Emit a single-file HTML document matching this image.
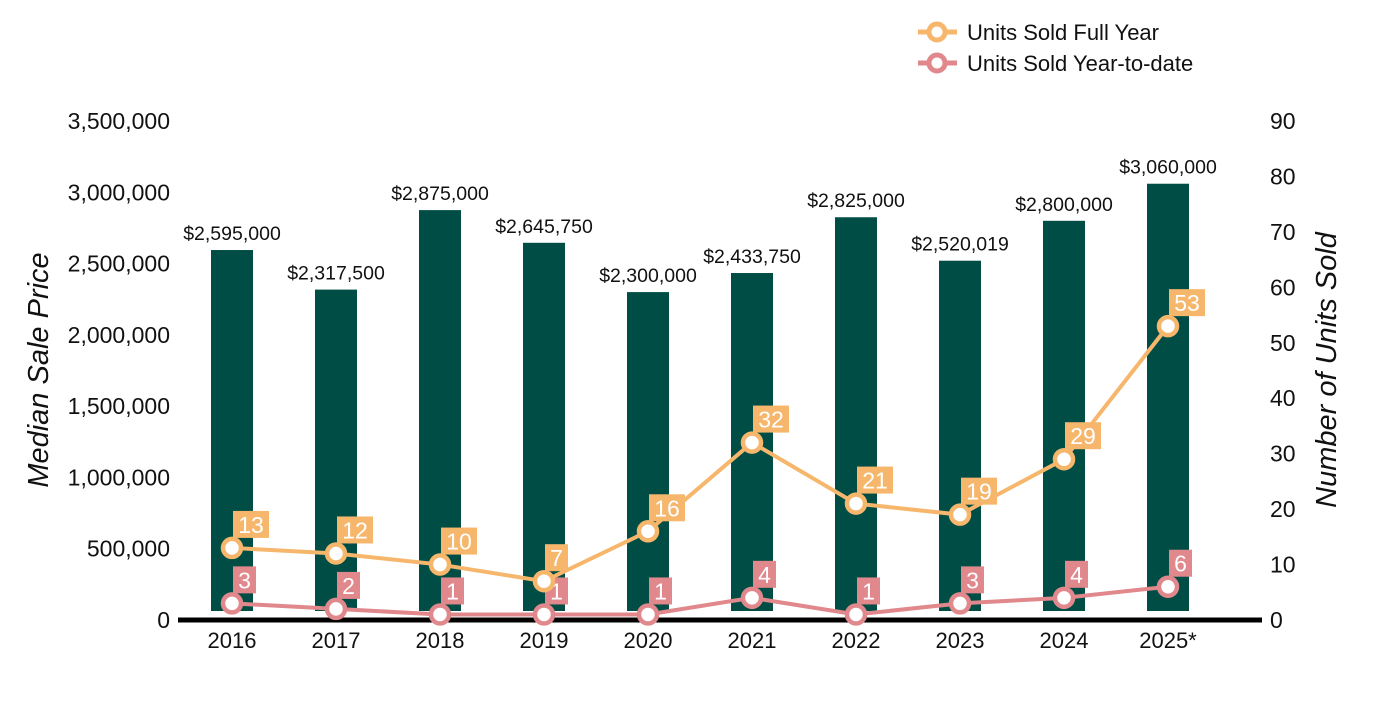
<!DOCTYPE html>
<html><head><meta charset="utf-8"><style>
body{margin:0;background:#fff}
svg text{font-family:"Liberation Sans",Arial,sans-serif}
</style></head><body>
<svg id="chart" width="1400" height="700" xmlns="http://www.w3.org/2000/svg">
<g id="axes"></g><g id="bars"></g><g id="lines"></g>
<g>
<g>
<line x1="918" y1="32" x2="957" y2="32" stroke="#F6B76D" stroke-width="5"/>
<circle cx="937" cy="32" r="8" fill="#fff" stroke="#F6B76D" stroke-width="5"/>
<text x="967" y="40" font-size="22" fill="#111">Units Sold Full Year</text></g>
<g>
<line x1="918" y1="63" x2="957" y2="63" stroke="#E0888C" stroke-width="5"/>
<circle cx="937" cy="63" r="8" fill="#fff" stroke="#E0888C" stroke-width="5"/>
<text x="967" y="71" font-size="22" fill="#111">Units Sold Year-to-date</text></g>
</g>
<text transform="translate(48,370) rotate(-90)" text-anchor="middle" font-size="29" font-style="italic" fill="#111">Median Sale Price</text>
<text transform="translate(1336,370) rotate(-90)" text-anchor="middle" font-size="29" font-style="italic" fill="#111">Number of Units Sold</text>
</svg>
<script>
const years=["2016","2017","2018","2019","2020","2021","2022","2023","2024","2025*"];
const prices=[2595000,2317500,2875000,2645750,2300000,2433750,2825000,2520019,2800000,3060000];
const priceLabels=["$2,595,000","$2,317,500","$2,875,000","$2,645,750","$2,300,000","$2,433,750","$2,825,000","$2,520,019","$2,800,000","$3,060,000"];
const fullYear=[13,12,10,7,16,32,21,19,29,53];
const ytd=[3,2,1,1,1,4,1,3,4,6];
const leftTicks=[0,500000,1000000,1500000,2000000,2500000,3000000,3500000];
const rightTicks=[0,10,20,30,40,50,60,70,80,90];
const NS="http://www.w3.org/2000/svg";
const y0=620,yTop=121;
const yL=v=>y0-(v/3500000)*(y0-yTop);
const yR=v=>y0-(v/90)*(y0-yTop);
const xC=i=>232+i*104;
function mk(tag,attrs,parent,txt){const e=document.createElementNS(NS,tag);for(const k in attrs)e.setAttribute(k,attrs[k]);if(txt!==undefined)e.textContent=txt;parent.appendChild(e);return e;}
const axes=document.getElementById('axes'),bars=document.getElementById('bars'),lines=document.getElementById('lines');
leftTicks.forEach(t=>{const e=mk('text',{x:170,y:yL(t)+8,'text-anchor':'end','font-size':23,fill:'#111'},axes,t.toLocaleString('en-US'));

});
rightTicks.forEach(t=>{const e=mk('text',{x:1270,y:yR(t)+8,'font-size':23,fill:'#111'},axes,String(t));

});
years.forEach((y,i)=>{const e=mk('text',{x:xC(i),y:648,'text-anchor':'middle','font-size':22,fill:'#111'},axes,y);

});
prices.forEach((p,i)=>{const top=yL(p);
const r=mk('rect',{x:xC(i)-21,y:top,width:42,height:Math.max(0,611-top),fill:'#004D45'},bars);


const t=mk('text',{x:xC(i),y:top-10,'text-anchor':'middle','font-size':19.5,fill:'#111'},bars,priceLabels[i]);

});
const ax=mk('line',{x1:178,y1:620,x2:1262,y2:620,stroke:'#000','stroke-width':5},axes);


function series(vals,color,name){
const pts=vals.map((v,i)=>xC(i)+','+yR(v)).join(' ');
const pl=mk('polyline',{points:pts,fill:'none',stroke:color,'stroke-width':4},lines);


vals.forEach((v,i)=>{const cx=xC(i),cy=yR(v);
const c=mk('circle',{cx:cx,cy:cy,r:9,fill:'#fff',stroke:color,'stroke-width':4.5},lines);


const s=String(v),w=s.length>1?36:23;
const b=mk('rect',{x:cx+1,y:cy-37,width:w,height:27,fill:color},lines);


const t=mk('text',{x:cx+1+w/2,y:cy-15,'text-anchor':'middle','font-size':23,fill:'#fff'},lines,s);

});}
series(ytd,'#E0888C','ytd');
series(fullYear,'#F6B76D','full-year');
</script>
</body></html>
